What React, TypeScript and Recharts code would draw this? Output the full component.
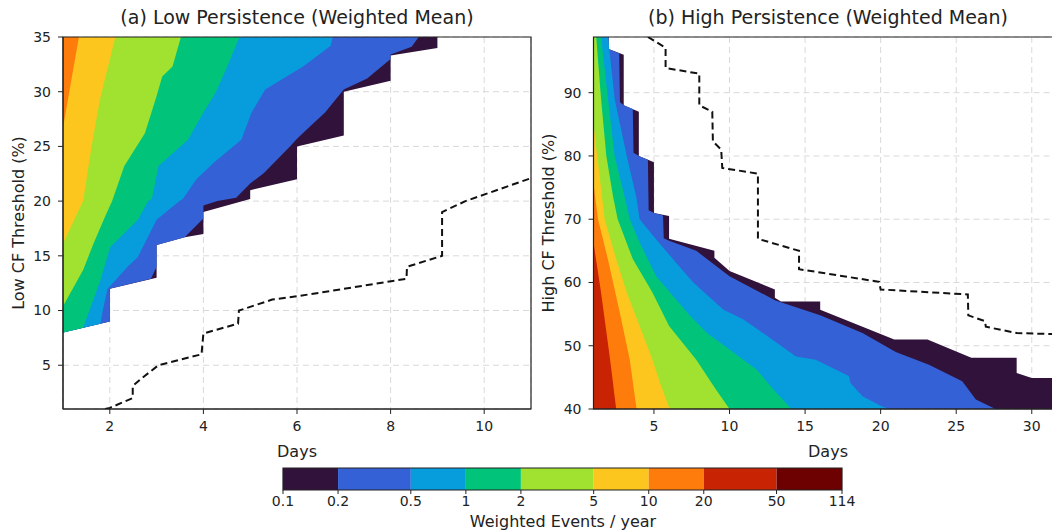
import React from 'react';
import {
  ComposedChart, Area, Line, XAxis, YAxis, CartesianGrid, ReferenceArea,
} from 'recharts';

// ---------- colour levels (Weighted Events / year) ----------
const LEVELS = [0.1, 0.2, 0.5, 1, 2, 5, 10, 20, 50, 114];
const COLORS = ['#30123b', '#3461d5', '#079ddd', '#01c47a', '#a0e22f', '#fdc61e', '#fe7c0c', '#c82403', '#6d0102'];

// ---------- panel (a): Low persistence — lower edge of each level (days, threshold %) ----------
const A_X_TICKS = [2, 4, 6, 8, 10];
const A_Y_TICKS = [5, 10, 15, 20, 25, 30, 35];
const A_L01: [number, number][] = [[1, 8], [2, 9], [2, 12], [3, 13], [3, 16], [3.6, 16.7], [4, 17], [4, 19], [5, 20.2], [5, 21], [6, 22], [6, 25], [7, 26], [7, 30], [8, 31], [8, 33.3], [9, 34], [9, 35], [11, 35]];
const A_L02: [number, number][] = [[1, 8], [2, 9], [2, 12], [2.88, 12.9], [3, 14], [3, 16], [3.6, 16.7], [4, 18.4], [4, 19.6], [4.3, 20], [4.7, 20.3], [5, 21.6], [5.3, 22.6], [5.85, 25], [6, 25.7], [6.3, 26.9], [6.6, 28.1], [7, 30.2], [7.5, 31.2], [8, 33], [8, 33.4], [8.45, 34.1], [8.6, 35], [11, 35]];
const A_L05: [number, number][] = [[1, 8], [1.8, 8.8], [1.85, 10], [1.95, 12], [2, 12.2], [2.38, 14], [2.6, 14.9], [3, 18.3], [3.49, 20], [3.56, 20.2], [3.85, 22], [4.22, 23.5], [4.81, 25.6], [5.03, 28.1], [5.32, 30.2], [6.13, 32.3], [6.72, 34.2], [6.76, 35], [11, 35]];
const A_L1: [number, number][] = [[1, 8], [1.43, 8.43], [1.65, 11], [1.8, 12.8], [2.01, 15.8], [2.6, 18.3], [2.82, 20], [2.9, 20.2], [3.04, 23.2], [3.67, 25.6], [4, 28.1], [4.26, 29.9], [4.51, 32.3], [4.77, 35], [11, 35]];
const A_L2: [number, number][] = [[1, 10.4], [1.43, 13.7], [1.65, 16.1], [1.9, 18.6], [2.05, 20], [2.31, 23.2], [2.75, 26.2], [3, 29.6], [3.12, 31.4], [3.34, 32.3], [3.52, 35], [11, 35]];
const A_L5: [number, number][] = [[1, 16.1], [1.24, 18.3], [1.43, 20], [1.61, 25], [1.79, 29.3], [2.12, 35], [11, 35]];
const A_L10: [number, number][] = [[1, 26.7], [1.34, 35], [11, 35]];
const A_DASH: [number, number][] = [[1.9, 1], [2, 1.1], [2.49, 2], [2.49, 3.1], [2.68, 3.8], [3.04, 5], [3.96, 6], [4, 7.9], [4.74, 8.8], [4.76, 10], [5.47, 11], [6, 11.3], [8.34, 12.9], [8.35, 14], [9.1, 15], [9.1, 19], [9.6, 20], [11, 22.1]];

// ---------- panel (b): High persistence — upper edge of each level ----------
const B_X_TICKS = [5, 10, 15, 20, 25, 30];
const B_Y_TICKS = [40, 50, 60, 70, 80, 90];
const B_L01: [number, number][] = [[1, 98.8], [2, 98.8], [2, 96.9], [3, 96], [3, 88], [4, 87], [4, 80], [5, 79], [5, 71], [6, 70.5], [6, 66.9], [9, 65], [9, 63.9], [10, 61.8], [13, 58.9], [13, 57.6], [13.4, 57], [16, 57], [16, 55.7], [20.9, 51], [23.1, 51], [26, 48.1], [29, 48.1], [29, 45.7], [30, 44.9], [32, 44.9]];
const B_L02: [number, number][] = [[1, 98.8], [2, 98.8], [2, 96.9], [2.7, 96.2], [2.75, 88.5], [3, 88], [3.6, 87.4], [3.65, 80.5], [4, 80], [4.6, 79.4], [4.65, 71.4], [5, 71], [5.6, 70.6], [5.65, 67], [6, 66.6], [7.8, 65], [10, 61], [13, 57.2], [16, 54.8], [18.8, 52], [21, 49], [23.2, 47], [25.4, 44.4], [26.3, 41.5], [27.6, 40]];
const B_L05: [number, number][] = [[1, 98.8], [1.96, 98.8], [2.4, 89], [3.2, 80], [3.83, 73.5], [4.05, 70], [5.15, 66.8], [6.25, 63.7], [7.6, 60], [9.6, 55.7], [10.9, 54.2], [12.7, 51.2], [14.4, 48.3], [15.7, 47.8], [17.9, 45.2], [18, 44.1], [18.8, 42], [20.1, 40.4], [20.6, 40]];
const B_L1: [number, number][] = [[1, 98.8], [1.5, 98.8], [1.96, 89], [2.4, 80], [3.06, 73.5], [3.4, 70], [4.05, 66.3], [5.15, 61], [6.25, 57.9], [7.4, 54.7], [8.5, 52], [10, 49.4], [11.8, 46.2], [12.9, 43.1], [14.1, 40]];
const B_L2: [number, number][] = [[1, 98.8], [1.18, 98.8], [1.5, 89], [1.85, 80], [2.3, 73.5], [2.6, 70], [3.6, 63.7], [4.9, 58.4], [6, 53.1], [7.8, 47.8], [9.1, 43.1], [10, 40]];
const B_L5: [number, number][] = [[1, 85], [1.74, 70], [2.5, 63.7], [3.2, 58.4], [4.05, 53.1], [4.9, 47.8], [5.4, 44.1], [6.04, 40]];
const B_L10: [number, number][] = [[1, 75.6], [1.3, 70], [1.95, 63.7], [2.7, 55.7], [3.4, 47.8], [3.85, 40]];
const B_L20: [number, number][] = [[1, 66.3], [1.5, 58.4], [2.1, 47.8], [2.5, 40]];
const B_DASH: [number, number][] = [[4.6, 98.8], [5.77, 97.1], [5.77, 93.9], [8, 93], [8, 88], [8.86, 87], [8.9, 82.3], [9.45, 81], [9.52, 78.1], [11.88, 77.2], [11.88, 66.9], [14.6, 65], [14.6, 62.1], [19.9, 60.1], [20, 58.9], [25.77, 58.1], [25.8, 54.8], [26.9, 53.9], [26.96, 53], [29, 52], [32, 51.8]];

const pts = (a: [number, number][]) => a.map(([x, y]) => ({ x, y }));

const FONT = "'DejaVu Sans', sans-serif";
const INK = '#222';
const tickStyle = { fontSize: 14, fill: INK, fontFamily: FONT };

const A_BANDS = [A_L01, A_L02, A_L05, A_L1, A_L2, A_L5, A_L10];
const B_BANDS = [B_L01, B_L02, B_L05, B_L1, B_L2, B_L5, B_L10, B_L20];
const CBAR_DATA = LEVELS.map((v) => ({ x: v, y: 0.5 }));

const GRID = { stroke: '#d9d9d9', strokeDasharray: '6 4' };
const DASH = { stroke: '#111', strokeWidth: 2, strokeDasharray: '7 4' };

function PanelA() {
  return (
    <ComposedChart width={540} height={532} margin={{ top: 37, left: 23, right: 9, bottom: 93 }}
      style={{ position: 'absolute', left: 0, top: 0 }}>
      <CartesianGrid {...GRID} />
      <XAxis dataKey="x" type="number" domain={[1, 11]} ticks={A_X_TICKS} allowDataOverflow height={30}
        tick={tickStyle} tickSize={5} tickMargin={7} axisLine={{ stroke: INK }} tickLine={{ stroke: INK }} />
      <YAxis type="number" domain={[1, 35]} ticks={A_Y_TICKS} allowDataOverflow width={40}
        tick={tickStyle} tickSize={5} tickMargin={7} axisLine={{ stroke: INK }} tickLine={{ stroke: INK }} />
      {A_BANDS.map((b, i) => (
        <Area key={i} data={pts(b)} dataKey="y" type="linear" baseValue={35} stroke="none"
          fill={COLORS[i]} fillOpacity={1} isAnimationActive={false} dot={false} activeDot={false} />
      ))}
      <Line data={pts(A_DASH)} dataKey="y" type="linear" {...DASH}
        dot={false} activeDot={false} isAnimationActive={false} />
      <ReferenceArea x1={1} x2={11} y1={1} y2={35} fill="none" stroke={INK} strokeWidth={1.2} />
    </ComposedChart>
  );
}

function PanelB() {
  return (
    <ComposedChart width={540} height={532} margin={{ top: 37, left: 13.5, right: 18, bottom: 93 }}
      style={{ position: 'absolute', left: 540, top: 0 }}>
      <CartesianGrid {...GRID} />
      <XAxis dataKey="x" type="number" domain={[1, 32]} ticks={B_X_TICKS} allowDataOverflow height={30}
        tick={tickStyle} tickSize={5} tickMargin={7} axisLine={{ stroke: INK }} tickLine={{ stroke: INK }} />
      <YAxis type="number" domain={[40, 98.8]} ticks={B_Y_TICKS} allowDataOverflow width={40}
        tick={tickStyle} tickSize={5} tickMargin={7} axisLine={{ stroke: INK }} tickLine={{ stroke: INK }} />
      {B_BANDS.map((b, i) => (
        <Area key={i} data={pts(b)} dataKey="y" type="linear" baseValue={40} stroke="none"
          fill={COLORS[i]} fillOpacity={1} isAnimationActive={false} dot={false} activeDot={false} />
      ))}
      <Line data={pts(B_DASH)} dataKey="y" type="linear" {...DASH}
        dot={false} activeDot={false} isAnimationActive={false} />
      <ReferenceArea x1={1} x2={32} y1={40} y2={98.8} fill="none" stroke={INK} strokeWidth={1.2} />
    </ComposedChart>
  );
}

function ColorBar() {
  return (
    <ComposedChart width={630} height={77} margin={{ top: 13, left: 33, right: 38, bottom: 12 }}
      data={CBAR_DATA}
      style={{ position: 'absolute', left: 250, top: 455 }}>
      <XAxis dataKey="x" type="number" scale="log" domain={[0.1, 114]} ticks={LEVELS} allowDataOverflow height={30}
        tick={tickStyle} tickSize={4} tickMargin={2} axisLine={false} tickLine={{ stroke: INK }}
        interval={0} />
      <YAxis type="number" domain={[0, 1]} hide allowDataOverflow />
      <Line dataKey="y" stroke="none" dot={false} activeDot={false} isAnimationActive={false} />
      {COLORS.map((c, i) => (
        <ReferenceArea key={i} x1={LEVELS[i]} x2={LEVELS[i + 1]} y1={0} y2={1} fill={c} fillOpacity={1} stroke="none" />
      ))}
      <ReferenceArea x1={0.1} x2={114} y1={0} y2={1} fill="none" stroke={INK} strokeWidth={1.2} />
    </ComposedChart>
  );
}

const txt = (s: React.CSSProperties): React.CSSProperties => ({
  position: 'absolute', fontFamily: FONT, color: INK, whiteSpace: 'nowrap', lineHeight: 1, ...s,
});

export default function App() {
  return (
    <div style={{ position: 'absolute', left: 0, top: 0, width: 1052, height: 532, overflow: 'hidden', background: '#fff' }}>
      <PanelA />
      <PanelB />
      <ColorBar />
      <div style={txt({ left: 297, top: 17, fontSize: 19, transform: 'translate(-50%, -50%)' })}>(a) Low Persistence (Weighted Mean)</div>
      <div style={txt({ left: 828, top: 17, fontSize: 19, transform: 'translate(-50%, -50%)' })}>(b) High Persistence (Weighted Mean)</div>
      <div style={txt({ left: 297, top: 452, fontSize: 16, transform: 'translate(-50%, -50%)' })}>Days</div>
      <div style={txt({ left: 828, top: 452, fontSize: 16, transform: 'translate(-50%, -50%)' })}>Days</div>
      <div style={txt({ left: 19, top: 223, fontSize: 16, transform: 'translate(-50%, -50%) rotate(-90deg)' })}>Low CF Threshold (%)</div>
      <div style={txt({ left: 549, top: 223, fontSize: 16, transform: 'translate(-50%, -50%) rotate(-90deg)' })}>High CF Threshold (%)</div>
      <div style={txt({ left: 563, top: 522, fontSize: 16, transform: 'translate(-50%, -50%)' })}>Weighted Events / year</div>
    </div>
  );
}
